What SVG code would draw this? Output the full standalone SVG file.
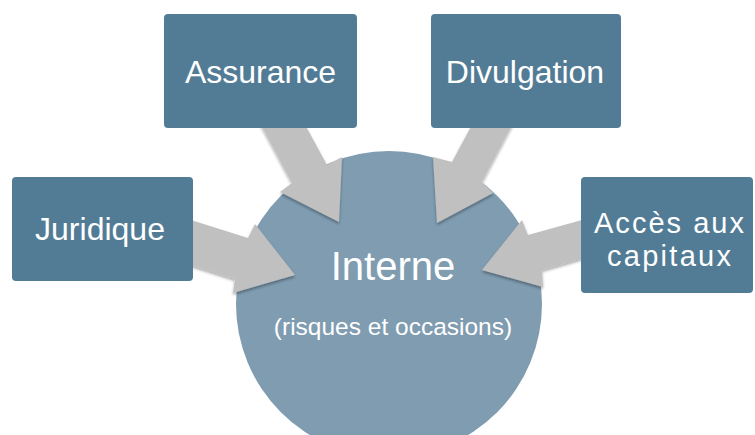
<svg xmlns="http://www.w3.org/2000/svg" width="755" height="435" viewBox="0 0 755 435">
<defs>
<filter id="sh" x="-20%" y="-20%" width="140%" height="140%">
<feGaussianBlur in="SourceAlpha" stdDeviation="1.5"/>
<feOffset dx="0" dy="1.5" result="b"/>
<feComponentTransfer><feFuncA type="linear" slope="0.35"/></feComponentTransfer>
<feMerge><feMergeNode/><feMergeNode in="SourceGraphic"/></feMerge>
</filter>
<style>
.box{fill:#527c95;}
.arr{fill:#c0c0c0;filter:url(#sh);}
.t{font-family:"Liberation Sans",Arial,sans-serif;fill:#ffffff;text-anchor:middle;}
.bt{font-size:32px;}
</style>
</defs>
<rect width="755" height="435" fill="#ffffff"/>
<g id="interne">
<circle cx="389" cy="304" r="153" fill="#7f9cb1"/>
<text class="t" x="393" y="280" font-size="40">Interne</text>
<text class="t" x="393" y="335" font-size="24.5">(risques et occasions)</text>
</g>
<g id="connectors">
<polygon class="arr" points="253,110 292,183 280,192 339,222 342,157 327,165 297,110"/>
<polygon class="arr" points="480,110 452,162 433,157 437,223 493,193 482,182 520,110"/>
<polygon class="arr" points="175,215 248,238 255,224 295,275 233,293 235,279 175,260"/>
<polygon class="arr" points="600,215 528,235 522,220 482,270 543,287 542,270 600,253"/>
</g>
<g id="assurance">
<rect class="box" x="164" y="14" width="193" height="114" rx="4"/>
<text class="t bt" x="260.5" y="83">Assurance</text>
</g>
<g id="divulgation">
<rect class="box" x="431" y="14" width="190" height="114" rx="4"/>
<text class="t bt" x="525" y="83">Divulgation</text>
</g>
<g id="juridique">
<rect class="box" x="12" y="177" width="181" height="104" rx="4"/>
<text class="t bt" x="100" y="240">Juridique</text>
</g>
<g id="acces">
<rect class="box" x="581" y="177" width="172" height="116" rx="4"/>
<text class="t" x="669" y="233" font-size="29" textLength="150" lengthAdjust="spacing">Accès aux</text>
<text class="t" x="669" y="266" font-size="29" textLength="124" lengthAdjust="spacing">capitaux</text>
</g>
</svg>
